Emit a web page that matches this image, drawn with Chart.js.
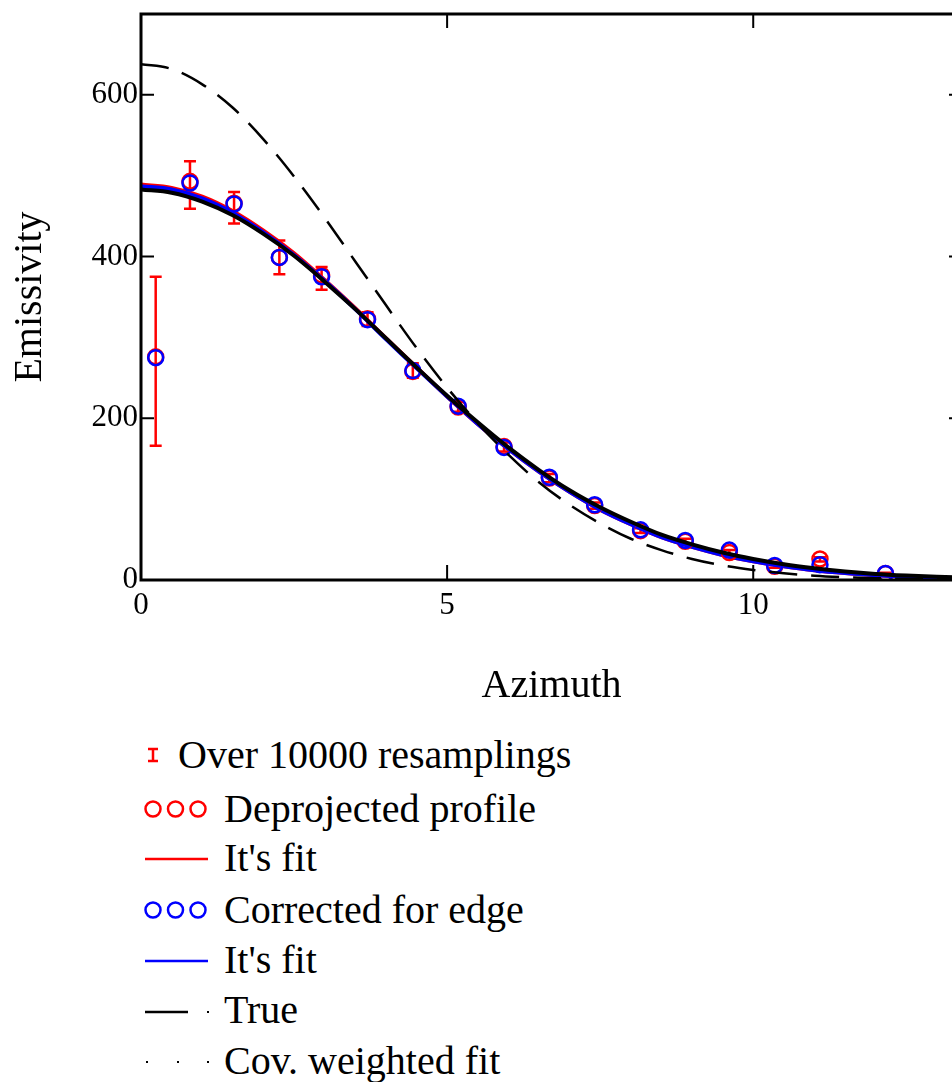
<!DOCTYPE html>
<html>
<head>
<meta charset="utf-8">
<script src="https://cdn.jsdelivr.net/npm/chart.js@4.4.0/dist/chart.umd.min.js"></script>
<style>
  body { margin: 0; background: #fff; font-family: "Liberation Serif", "Times New Roman", serif; }
  #wrap { position: relative; width: 952px; height: 1082px; overflow: hidden; }
  #myChart { position: absolute; left: 0; top: 0; }
  .legRow { position: absolute; left: 0; width: 952px; height: 40px; }
  .legRow svg { position: absolute; left: 130px; top: 0; }
  .legRow span { position: absolute; top: 0; font-size: 40px; line-height: 40px; color: #000; white-space: nowrap; }
</style>
</head>
<body>
<div id="wrap">
  <canvas id="myChart" width="962" height="720"></canvas>
  <div id="legend"></div>
</div>
<script>
// measured points (azimuth)
const ptX = [0.24, 0.80, 1.52, 2.26, 2.95, 3.70, 4.44, 5.18, 5.93, 6.67, 7.41, 8.16, 8.89, 9.61, 10.35, 11.09, 12.16];
const deprojected = [276, 493, 466, 399, 377, 323, 258, 214, 165, 126, 92, 61, 48, 34, 17, 26, 8];
const corrected = [275, 491, 465, 399, 375, 322, 259, 215, 164, 127, 93, 62, 49, 37, 18, 19, 8];
const errLow = [166, 459, 441, 378, 359, 314, 250, 208, 159, 121, 88, 58, 45, 31, 15, 23, 7];
const errHigh = [375, 518, 480, 420, 387, 331, 268, 220, 170, 131, 96, 64, 51, 37, 19, 28, 9];

// curves
const fitX = [0, 0.5, 1, 1.5, 2, 2.5, 3, 3.5, 4, 4.5, 5, 5.5, 6, 6.5, 7, 7.5, 8, 8.5, 9, 9.5, 10, 10.5, 11, 11.5, 12, 12.5, 13, 13.41];
const redFit = [489, 485, 474, 456, 432, 404, 371, 336, 299, 263, 227, 193, 162, 134, 109, 87, 69, 53, 41, 31, 23, 17, 12, 8.5, 6, 4, 2.7, 2];
const blueFit = [487, 483, 472, 454, 430, 402, 370, 335, 298, 262, 227, 193, 162, 134, 109, 87, 69, 53, 41, 31, 23, 17, 12, 8.5, 6, 4, 2.7, 2];
const trueCurve = [483, 479, 468, 451, 428, 401, 369, 335, 299, 263, 228, 195, 164, 136, 111, 90, 72, 56, 44, 34, 26, 19.5, 14.5, 10.5, 7.5, 5.5, 4, 3];
const covFit = [638, 632, 613, 584, 545, 499, 448, 394, 340, 287, 238, 194, 155, 121, 93, 70, 51, 37, 26, 18, 12.4, 8.3, 5.4, 3.5, 2.2, 1.4, 0.8, 0.5];

const xTicks = [0, 5, 10];
const yTicks = [0, 200, 400, 600];

const legendLabels = ['Over 10000 resamplings', 'Deprojected profile', "It's fit", 'Corrected for edge', "It's fit", 'True', 'Cov. weighted fit'];

const pairs = (xs, ys) => xs.map((x, i) => ({ x: x, y: ys[i] }));
const serif = '"Liberation Serif", "Times New Roman", serif';

// error bars, frame and inward ticks
const decorPlugin = {
  id: 'decor',
  beforeDatasetsDraw(chart) {
    const ctx = chart.ctx, xs = chart.scales.x, ys = chart.scales.y;
    ctx.save();
    ctx.strokeStyle = '#ff0000';
    ctx.lineWidth = 2.5;
    ptX.forEach((v, i) => {
      const px = xs.getPixelForValue(v);
      const lo = ys.getPixelForValue(errLow[i]);
      const hi = ys.getPixelForValue(errHigh[i]);
      ctx.beginPath();
      ctx.moveTo(px, lo); ctx.lineTo(px, hi);
      ctx.moveTo(px - 6, lo); ctx.lineTo(px + 6, lo);
      ctx.moveTo(px - 6, hi); ctx.lineTo(px + 6, hi);
      ctx.stroke();
    });
    ctx.restore();
  },
  afterDraw(chart) {
    const ctx = chart.ctx, a = chart.chartArea, xs = chart.scales.x, ys = chart.scales.y;
    ctx.save();
    ctx.strokeStyle = '#000';
    ctx.lineWidth = 3;
    ctx.strokeRect(a.left, a.top, a.right - a.left, a.bottom - a.top);
    ctx.lineWidth = 2;
    ctx.beginPath();
    xTicks.forEach(v => {
      const px = xs.getPixelForValue(v);
      ctx.moveTo(px, a.bottom); ctx.lineTo(px, a.bottom - 15);
      ctx.moveTo(px, a.top); ctx.lineTo(px, a.top + 14);
    });
    yTicks.forEach(v => {
      const py = ys.getPixelForValue(v);
      ctx.moveTo(a.left, py); ctx.lineTo(a.left + 13, py);
      ctx.moveTo(a.right, py); ctx.lineTo(a.right - 13, py);
    });
    ctx.stroke();
    ctx.restore();
  }
};

const ctx = document.getElementById('myChart').getContext('2d');
const myChart = new Chart(ctx, {
  type: 'scatter',
  data: {
    datasets: [
      { data: pairs(fitX, trueCurve), showLine: true, borderColor: '#000', borderWidth: 4, pointRadius: 0, cubicInterpolationMode: 'monotone', order: 0 },
      { data: pairs(fitX, covFit), showLine: true, borderColor: '#000', borderWidth: 2.5, borderDash: [28, 14], pointRadius: 0, cubicInterpolationMode: 'monotone', order: 1 },
      { data: pairs(ptX, corrected), showLine: false, pointRadius: 7.5, pointBorderWidth: 2.5, pointBorderColor: '#0000ff', pointBackgroundColor: 'rgba(0,0,0,0)', order: 2 },
      { data: pairs(ptX, deprojected), showLine: false, pointRadius: 7.5, pointBorderWidth: 2.5, pointBorderColor: '#ff0000', pointBackgroundColor: 'rgba(0,0,0,0)', order: 3 },
      { data: pairs(fitX, blueFit), showLine: true, borderColor: '#0000ff', borderWidth: 4, pointRadius: 0, cubicInterpolationMode: 'monotone', order: 4 },
      { data: pairs(fitX, redFit), showLine: true, borderColor: '#ff0000', borderWidth: 4, pointRadius: 0, cubicInterpolationMode: 'monotone', order: 5 }
    ]
  },
  options: {
    responsive: false,
    animation: false,
    layout: { autoPadding: false, padding: { top: 14, right: 0, left: 0, bottom: 0 } },
    plugins: { legend: { display: false }, tooltip: { enabled: false } },
    scales: {
      x: {
        type: 'linear', min: 0, max: 13.41,
        afterBuildTicks: s => { s.ticks = xTicks.map(v => ({ value: v })); },
        afterFit: s => { s.height = 140; s.paddingLeft = 0; s.paddingRight = 0; },
        grid: { display: false, drawTicks: false },
        border: { display: false },
        ticks: { color: '#000', font: { family: serif, size: 31 }, padding: 7, maxRotation: 0 },
        title: { display: true, text: 'Azimuth', color: '#000', font: { family: serif, size: 40 }, padding: { top: 0, bottom: 10 } }
      },
      y: {
        type: 'linear', min: 0, max: 700,
        afterBuildTicks: s => { s.ticks = yTicks.map(v => ({ value: v })); },
        afterFit: s => { s.width = 141; s.paddingTop = 0; s.paddingBottom = 0; },
        grid: { display: false, drawTicks: false },
        border: { display: false },
        ticks: { color: '#000', font: { family: serif, size: 31 }, padding: 3 },
        title: { display: true, text: 'Emissivity', color: '#000', font: { family: serif, size: 40 }, padding: { top: 6, bottom: 0 } }
      }
    }
  },
  plugins: [decorPlugin]
});

// legend below the plot, one entry per line
const rowMid = [755, 809, 858, 910, 960, 1010, 1061];
const symbols = [
  '<path d="M18 0 H28 M23 0 V12 M18 12 H28" stroke="#ff0000" stroke-width="2.5" fill="none" transform="translate(0,14)"/>',
  '<g stroke="#ff0000" stroke-width="2.5" fill="none"><circle cx="23" cy="20" r="7.5"/><circle cx="45.5" cy="20" r="7.5"/><circle cx="68" cy="20" r="7.5"/></g>',
  '<line x1="15" y1="21" x2="78" y2="21" stroke="#ff0000" stroke-width="2.5"/>',
  '<g stroke="#0000ff" stroke-width="2.5" fill="none"><circle cx="23" cy="20" r="7.5"/><circle cx="45.5" cy="20" r="7.5"/><circle cx="68" cy="20" r="7.5"/></g>',
  '<line x1="15" y1="21" x2="78" y2="21" stroke="#0000ff" stroke-width="2.5"/>',
  '<line x1="15" y1="22" x2="58" y2="22" stroke="#000" stroke-width="2.5"/><rect x="77" y="21" width="2" height="2" fill="#000"/>',
  '<rect x="16" y="20" width="2" height="2" fill="#000"/><rect x="47" y="20" width="2" height="2" fill="#000"/><rect x="77" y="20" width="2" height="2" fill="#000"/>'
];
const textLeft = [178, 224, 224, 224, 224, 224, 224];
const legend = document.getElementById('legend');
legendLabels.forEach((label, i) => {
  const row = document.createElement('div');
  row.className = 'legRow';
  row.style.top = (rowMid[i] - 20) + 'px';
  row.innerHTML = '<svg width="90" height="40">' + symbols[i] + '</svg>' +
    '<span style="left:' + textLeft[i] + 'px">' + label + '</span>';
  legend.appendChild(row);
});
</script>
</body>
</html>
